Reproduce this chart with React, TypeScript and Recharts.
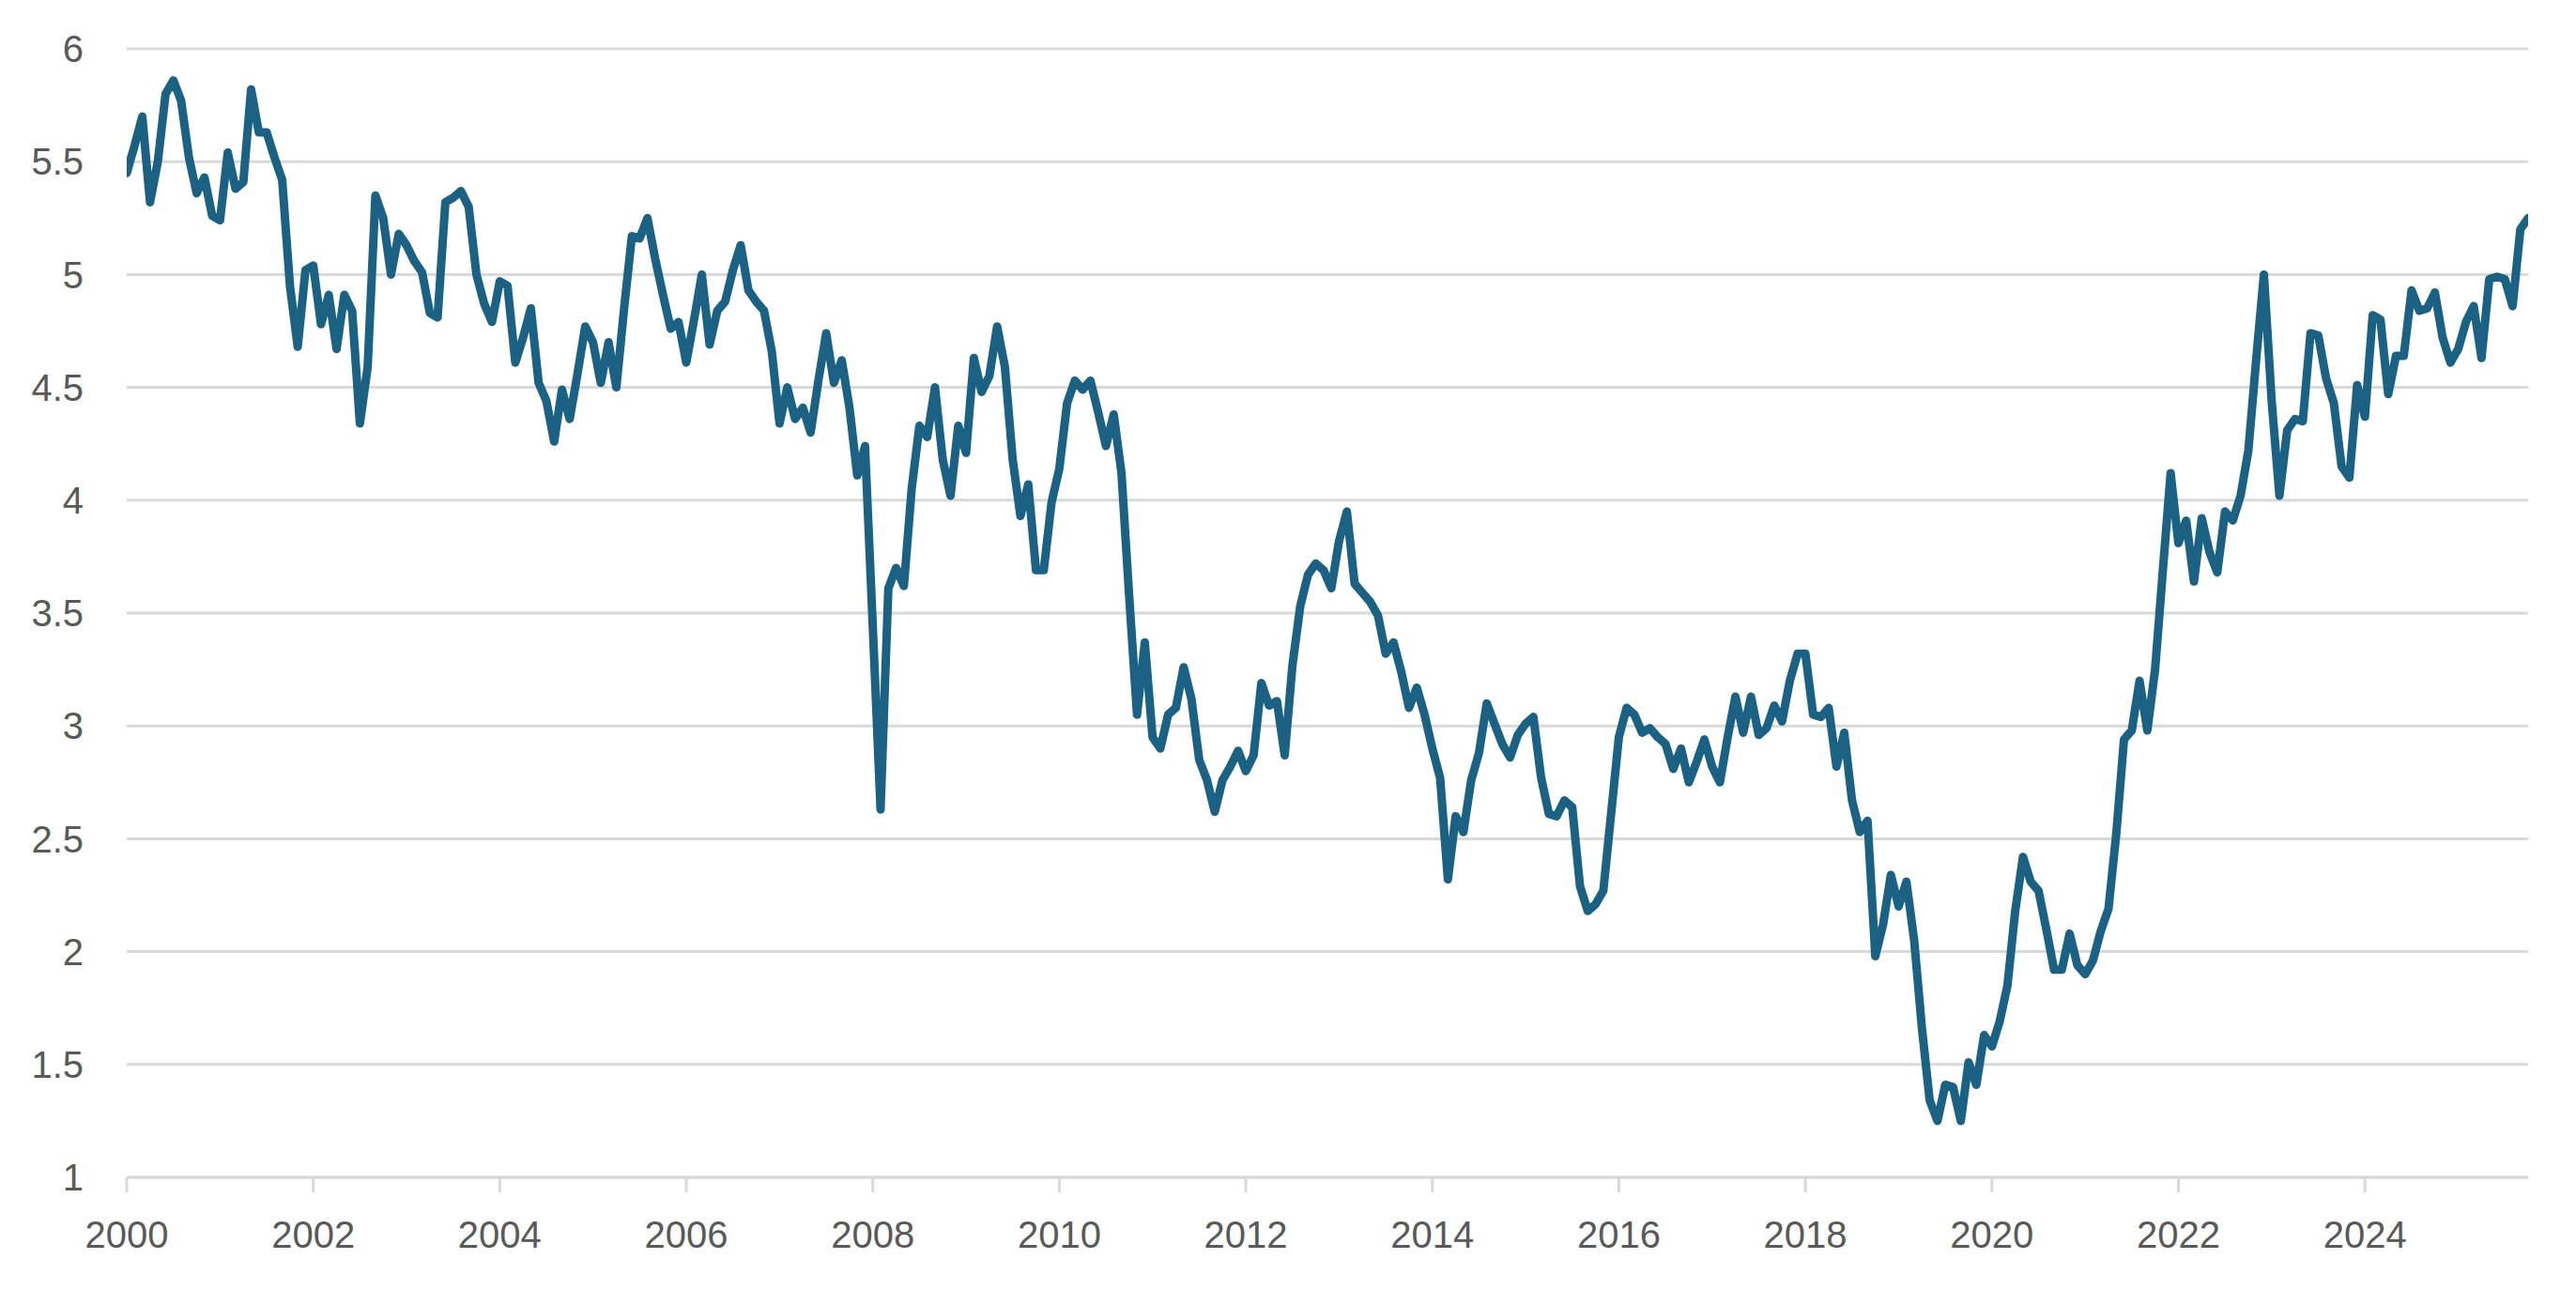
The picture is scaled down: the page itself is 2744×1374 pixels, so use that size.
import { LineChart, Line, XAxis, YAxis, CartesianGrid } from 'recharts'

// monthly values, one row per year
const values2000s = [
    5.45, 5.57, 5.7, 5.32, 5.5, 5.8, 5.86, 5.77, 5.52, 5.36, 5.43, 5.26,
    5.24, 5.54, 5.38, 5.41, 5.82, 5.63, 5.63, 5.52, 5.42, 4.95, 4.68, 5.02,
    5.04, 4.78, 4.91, 4.67, 4.91, 4.84, 4.34, 4.59, 5.35, 5.25, 5.0, 5.18,
    5.13, 5.06, 5.01, 4.83, 4.81, 5.32, 5.34, 5.37, 5.3, 5.0, 4.87, 4.79,
    4.97, 4.95, 4.61, 4.72, 4.85, 4.52, 4.44, 4.26, 4.49, 4.36, 4.56, 4.77,
    4.7, 4.52, 4.7, 4.5, 4.85, 5.17, 5.16, 5.25, 5.07, 4.91, 4.76, 4.79,
    4.61, 4.8, 5.0, 4.69, 4.84, 4.88, 5.02, 5.13, 4.93, 4.88, 4.84, 4.66,
    4.34, 4.5, 4.36, 4.41, 4.3, 4.53, 4.74, 4.52, 4.62, 4.41, 4.11, 4.24,
    3.44, 2.63, 3.61, 3.7, 3.62, 4.05, 4.33, 4.28, 4.5, 4.18, 4.02, 4.33,
    4.21, 4.63, 4.48, 4.55, 4.77, 4.59, 4.18, 3.93, 4.07, 3.69, 3.69, 3.99,
]

const values2010s = [
    4.14, 4.43, 4.53, 4.49, 4.53, 4.39, 4.24, 4.38, 4.12, 3.57, 3.05, 3.37,
    2.95, 2.9, 3.05, 3.08, 3.26, 3.12, 2.85, 2.76, 2.62, 2.76, 2.82, 2.89,
    2.8, 2.87, 3.19, 3.09, 3.11, 2.87, 3.27, 3.53, 3.67, 3.72, 3.69, 3.61,
    3.82, 3.95, 3.63, 3.59, 3.55, 3.49, 3.32, 3.37, 3.24, 3.08, 3.17, 3.05,
    2.9, 2.77, 2.32, 2.6, 2.53, 2.76, 2.88, 3.1, 3.01, 2.92, 2.86, 2.96,
    3.01, 3.04, 2.77, 2.61, 2.6, 2.67, 2.64, 2.29, 2.18, 2.21, 2.27, 2.61,
    2.95, 3.08, 3.05, 2.97, 2.99, 2.95, 2.92, 2.81, 2.9, 2.75, 2.84, 2.94,
    2.82, 2.75, 2.95, 3.13, 2.97, 3.13, 2.96, 2.99, 3.09, 3.02, 3.2, 3.32,
    3.32, 3.05, 3.04, 3.08, 2.82, 2.97, 2.67, 2.53, 2.58, 1.98, 2.12, 2.34,
    2.2, 2.31, 2.05, 1.66, 1.34, 1.25, 1.41, 1.4, 1.25, 1.51, 1.41, 1.63,
]

const values2020s = [
    1.58, 1.69, 1.85, 2.18, 2.42, 2.31, 2.27, 2.1, 1.92, 1.92, 2.08, 1.94,
    1.9, 1.96, 2.09, 2.19, 2.52, 2.94, 2.98, 3.2, 2.98, 3.25, 3.69, 4.12,
    3.81, 3.91, 3.64, 3.92, 3.77, 3.68, 3.95, 3.91, 4.02, 4.22, 4.62, 5.0,
    4.44, 4.02, 4.31, 4.36, 4.35, 4.74, 4.73, 4.54, 4.43, 4.15, 4.1, 4.51,
    4.37, 4.82, 4.8, 4.47, 4.64, 4.64, 4.93, 4.84, 4.85, 4.92, 4.72, 4.61,
    4.67, 4.79, 4.86, 4.63, 4.98, 4.99, 4.98, 4.86, 5.2, 5.25,
]

const startYear = 2000
const yearTicks = [2000, 2002, 2004, 2006, 2008, 2010, 2012, 2014, 2016, 2018, 2020, 2022, 2024]
const valueTicks = [1, 1.5, 2, 2.5, 3, 3.5, 4, 4.5, 5, 5.5, 6]

const allValues = [...values2000s, ...values2010s, ...values2020s]
const data = allValues.map((v, i) => ({ t: startYear + i / 12, value: v }))
const lastT = data[data.length - 1].t

const gridColor = '#d9d9d9'
const labelColor = '#595959'
const lineColor = '#1b6184'
const font = '"Liberation Sans", Arial, sans-serif'

export default function App() {
    return (
        <div style={{ position: 'absolute', left: 0, top: 0, width: 2744, height: 1374, background: '#fff' }}>
            <LineChart width={2744} height={1374} data={data} margin={{ top: 52, right: 51, bottom: 40, left: 0 }}>
                <CartesianGrid horizontal={true} vertical={false} stroke={gridColor} strokeWidth={3} />
                <XAxis
                    type="number"
                    dataKey="t"
                    domain={[startYear, lastT]}
                    ticks={yearTicks}
                    tickFormatter={(v) => String(Math.round(v))}
                    height={80}
                    stroke={gridColor}
                    strokeWidth={3}
                    tickSize={16}
                    tickMargin={31}
                    tick={{ fill: labelColor, fontSize: 40, fontFamily: font }}
                    allowDataOverflow
                />
                <YAxis
                    type="number"
                    domain={[1, 6]}
                    ticks={valueTicks}
                    width={135}
                    axisLine={false}
                    tickLine={false}
                    tickSize={0}
                    tickMargin={46}
                    tick={{ fill: labelColor, fontSize: 40, fontFamily: font }}
                />
                <Line
                    type="linear"
                    dataKey="value"
                    stroke={lineColor}
                    strokeWidth={9}
                    strokeLinejoin="round"
                    strokeLinecap="round"
                    dot={false}
                    isAnimationActive={false}
                />
            </LineChart>
        </div>
    )
}
